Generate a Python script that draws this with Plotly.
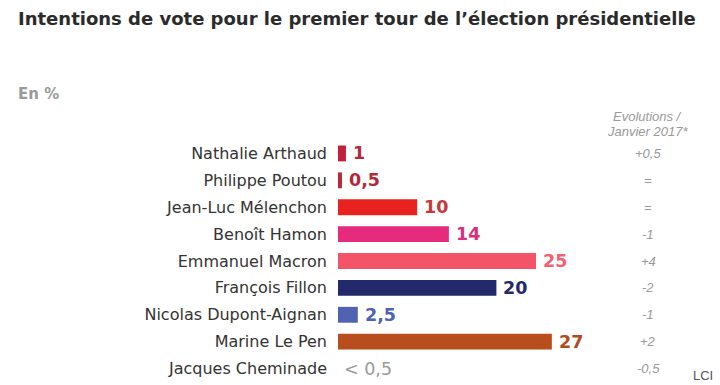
import plotly.graph_objects as go

candidates = ["Nathalie Arthaud", "Philippe Poutou", "Jean-Luc Mélenchon", "Benoît Hamon",
              "Emmanuel Macron", "François Fillon", "Nicolas Dupont-Aignan", "Marine Le Pen",
              "Jacques Cheminade"]
values = [1, 0.5, 10, 14, 25, 20, 2.5, 27, 0]
value_labels = ["1", "0,5", "10", "14", "25", "20", "2,5", "27", "< 0,5"]
evolutions = ["+0,5", "=", "=", "-1", "+4", "-2", "-1", "+2", "-0,5"]
bar_colors = ["#c21f3a", "#b8283c", "#e8221e", "#e62a7c", "#f45468", "#232a6c", "#5062b2", "#b84e1e", "#999999"]
text_colors = ["#b02a3c", "#b02a3c", "#c8383a", "#d8307c", "#f06072", "#232a6c", "#5062b2", "#b04a22", "#9a9a9a"]

W, H = 720, 385
L, R, T, B = 338, 0, 139.5, 2.5
pw, ph = W - L - R, H - T - B
px_per_unit = 7.92

def px(x):
    return (x - L) / pw

def py(y):
    return (H - B - y) / ph

fig = go.Figure(go.Bar(
    x=values, y=candidates, orientation="h",
    marker=dict(color=bar_colors, line=dict(width=0)),
    hoverinfo="skip",
))

annotations = []
for c, v, lab, col in zip(candidates, values, value_labels, text_colors):
    annotations.append(dict(x=v, y=c, xref="x", yref="y", text=lab, showarrow=False,
                            xanchor="left", yanchor="middle", xshift=5 if v > 0 else 4,
                            font=dict(family="DejaVu Sans", size=17.5, color=col,
                                      weight="bold" if v > 0 else "normal")))
for c, e in zip(candidates, evolutions):
    annotations.append(dict(x=px(648), y=c, xref="paper", yref="y", text=e, showarrow=False,
                            xanchor="center", yanchor="middle",
                            font=dict(family="Liberation Sans", size=13, color="#999999", style="italic")))

annotations += [
    dict(x=px(16), y=py(17), xref="paper", yref="paper", showarrow=False, xanchor="left", yanchor="middle",
         text="Intentions de vote pour le premier tour de l’élection présidentielle",
         font=dict(family="DejaVu Sans", size=18, color="#2b2b2b", weight="bold")),
    dict(x=px(16), y=py(93), xref="paper", yref="paper", showarrow=False, xanchor="left", yanchor="middle",
         text="En %", font=dict(family="DejaVu Sans", size=15, color="#9a9a9a", weight="bold")),
    dict(x=px(647), y=py(116), xref="paper", yref="paper", showarrow=False, xanchor="center", yanchor="middle",
         text="Evolutions /", font=dict(family="Liberation Sans", size=13, color="#999999", style="italic")),
    dict(x=px(647), y=py(131), xref="paper", yref="paper", showarrow=False, xanchor="center", yanchor="middle",
         text="Janvier 2017*", font=dict(family="Liberation Sans", size=13, color="#999999", style="italic")),
    dict(x=px(703), y=py(376), xref="paper", yref="paper", showarrow=False, xanchor="center", yanchor="middle",
         text="LCI", font=dict(family="Liberation Sans", size=13, color="#555555")),
]

fig.update_layout(
    width=W, height=H,
    margin=dict(l=L, r=R, t=T, b=B, pad=0),
    paper_bgcolor="white", plot_bgcolor="white",
    showlegend=False, bargap=0.41,
    annotations=annotations,
    xaxis=dict(range=[0, pw / px_per_unit], visible=False, fixedrange=True),
    yaxis=dict(type="category", categoryorder="array", categoryarray=candidates,
               autorange="reversed", showgrid=False, zeroline=False, showline=False,
               ticks="", ticklabelstandoff=10,
               tickfont=dict(family="DejaVu Sans", size=16, color="#333333"), fixedrange=True),
)

fig.write_html("out.html", config={"displayModeBar": False},
               post_script="document.body.style.margin='0';")
